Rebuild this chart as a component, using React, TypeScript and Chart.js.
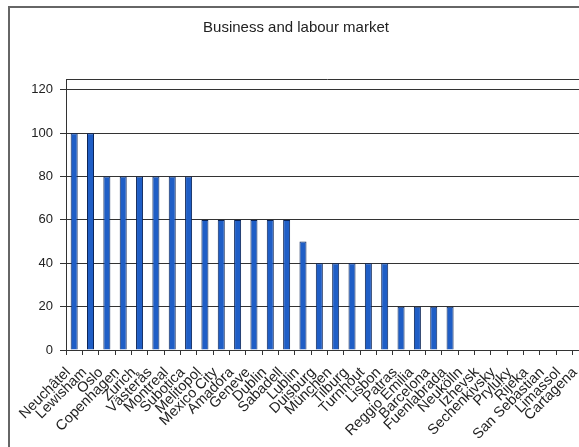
import React, { useEffect, useRef } from "react";
import { Chart, registerables } from "chart.js";

Chart.register(...registerables);

const categories = [
  "Neuchâtel", "Lewisham", "Oslo", "Copenhagen", "Zurich", "Västerås", "Montreal", "Subotica",
  "Melitopol", "Mexico City", "Amadora", "Geneve", "Dublin", "Sabadell", "Lublin", "Duisburg",
  "München", "Tilburg", "Turnhout", "Lisbon", "Patras", "Reggio Emilia", "Barcelona", "Fuenlabrada",
  "Neukölln", "Izhevsk", "Sechenkivsky", "Pryluky", "Rijeka", "San Sebastian", "Limassol", "Cartagena",
];

const values = [
  100, 100, 80, 80, 80, 80, 80, 80,
  60, 60, 60, 60, 60, 60, 50, 40,
  40, 40, 40, 40, 20, 20, 20, 20,
  0, 0, 0, 0, 0, 0, 0, 0,
];

const yTicks = [0, 20, 40, 60, 80, 100, 120];
const yMax = 125;
const titleText = "Business and labour market";

const plotBorder = {
  id: "plotBorder",
  afterDraw(chart: any) {
    const { ctx, chartArea } = chart;
    ctx.save();
    ctx.strokeStyle = "#333";
    ctx.lineWidth = 1;
    ctx.beginPath();
    ctx.moveTo(chartArea.left, Math.round(chartArea.top) + 0.5);
    ctx.lineTo(chartArea.right, Math.round(chartArea.top) + 0.5);
    ctx.lineTo(chartArea.right, chartArea.bottom);
    ctx.stroke();
    ctx.restore();
  },
};

export default function App() {
  const ref = useRef<HTMLCanvasElement | null>(null);

  useEffect(() => {
    document.body.style.margin = "0";
    const canvas = ref.current!;
    Chart.defaults.font.family = "'Liberation Sans', Arial, sans-serif";
    Chart.defaults.font.size = 13;
    Chart.defaults.color = "#222";
    const chart = new Chart(canvas, {
      type: "bar",
      data: {
        labels: categories,
        datasets: [
          {
            data: values,
            backgroundColor: "#1f5ec6",
            borderColor: "#0c2558",
            borderWidth: 1,
            barPercentage: 0.43,
            categoryPercentage: 1,
          },
        ],
      },
      options: {
        animation: false,
        responsive: false,
        devicePixelRatio: 1,
        layout: { padding: { top: 79, left: 0, right: 0, bottom: 0 } },
        plugins: { legend: { display: false }, title: { display: false }, tooltip: { enabled: false } },
        scales: {
          x: {
            grid: {
              offset: true,
              drawOnChartArea: false,
              drawTicks: true,
              tickLength: 5,
              color: "#333",
            },
            border: { display: true, color: "#333", width: 1 },
            ticks: {
              autoSkip: false,
              minRotation: 45,
              maxRotation: 45,
              padding: 9,
              labelOffset: -6,
              color: "#222",
              font: { size: 14.5 },
            },
            afterFit: (scale: any) => {
              scale.height = 97;
              scale.paddingLeft = 0;
              scale.paddingRight = 0;
            },
          },
          y: {
            min: 0,
            max: yMax,
            z: 1,
            afterBuildTicks: (scale: any) => {
              scale.ticks = yTicks.map((v) => ({ value: v }));
            },
            afterFit: (scale: any) => {
              scale.width = 66;
              scale.paddingTop = 0;
              scale.paddingBottom = 0;
            },
            grid: { color: "#333", tickLength: 6, lineWidth: 1 },
            border: { display: true, color: "#333", width: 1 },
            ticks: { padding: 7, color: "#222", font: { size: 13 } },
          },
        },
      },
      plugins: [plotBorder],
    });
    return () => chart.destroy();
  }, []);

  return (
    <div style={{ position: "fixed", left: 0, top: 0, width: 579, height: 447, overflow: "hidden", background: "#fff" }}>
      <canvas ref={ref} width={589} height={447} style={{ position: "absolute", left: 0, top: 0 }} />
      <div
        style={{
          position: "absolute",
          left: 8,
          top: 6,
          width: 700,
          height: 600,
          border: "2px solid #666",
          pointerEvents: "none",
        }}
      />
      <div
        style={{
          position: "absolute",
          left: 0,
          top: 18,
          width: 592,
          textAlign: "center",
          fontFamily: "'Liberation Sans', Arial, sans-serif",
          fontSize: 15,
          lineHeight: "17px",
          color: "#222",
        }}
      >
        {titleText}
      </div>
    </div>
  );
}
